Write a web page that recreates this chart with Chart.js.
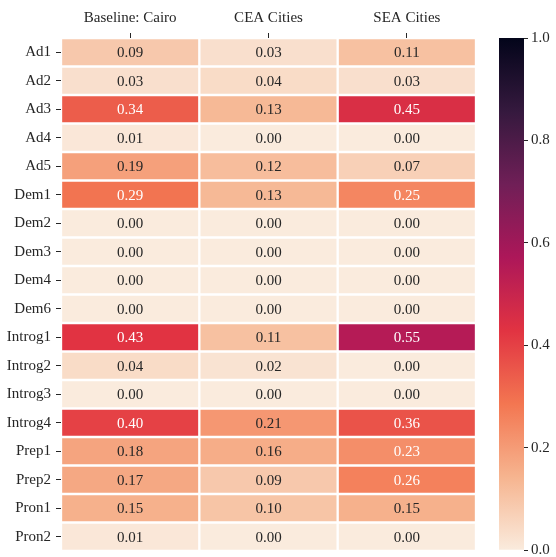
<!DOCTYPE html>
<html>
<head>
<meta charset="utf-8">
<script src="https://cdn.jsdelivr.net/npm/chart.js@4/dist/chart.umd.min.js"></script>
<style>
  body { margin: 0; background: #fff; }
  #wrap { position: relative; width: 556px; height: 557px; }
  #heat { position: absolute; left: 0; top: 0; }
  #bar { position: absolute; left: 480px; top: 0; }
</style>
</head>
<body>
<div id="wrap">
  <canvas id="heat" width="480" height="557"></canvas>
  <canvas id="bar" width="76" height="557"></canvas>
</div>
<script>
// filas y columnas del mapa de calor
const filas = ['Ad1', 'Ad2', 'Ad3', 'Ad4', 'Ad5', 'Dem1', 'Dem2', 'Dem3', 'Dem4', 'Dem6',
  'Introg1', 'Introg2', 'Introg3', 'Introg4', 'Prep1', 'Prep2', 'Pron1', 'Pron2'];
const columnas = ['Baseline: Cairo', 'CEA Cities', 'SEA Cities'];

const baselineCairo = [0.09, 0.03, 0.34, 0.01, 0.19, 0.29, 0.00, 0.00, 0.00, 0.00,
  0.43, 0.04, 0.00, 0.40, 0.18, 0.17, 0.15, 0.01];
const ceaCities = [0.03, 0.04, 0.13, 0.00, 0.12, 0.13, 0.00, 0.00, 0.00, 0.00,
  0.11, 0.02, 0.00, 0.21, 0.16, 0.09, 0.10, 0.00];
const seaCities = [0.11, 0.03, 0.45, 0.00, 0.07, 0.25, 0.00, 0.00, 0.00, 0.00,
  0.55, 0.00, 0.00, 0.36, 0.23, 0.26, 0.15, 0.00];

const valores = [baselineCairo, ceaCities, seaCities];
const escalaTicks = [0, 0.2, 0.4, 0.6, 0.8, 1.0];

// paleta rocket invertida (0 claro -> 1 oscuro)
const paleta = [
  [0.000, [250, 235, 221]],
  [0.143, [246, 180, 143]],
  [0.286, [243, 118, 81]],
  [0.429, [225, 51, 66]],
  [0.571, [173, 23, 89]],
  [0.714, [112, 31, 87]],
  [0.857, [53, 25, 62]],
  [1.000, [3, 5, 26]]
];

function rgbDe(v) {
  for (let k = 1; k < paleta.length; k++) {
    const [p0, c0] = paleta[k - 1];
    const [p1, c1] = paleta[k];
    if (v <= p1) {
      const t = (v - p0) / (p1 - p0);
      return c0.map((c, i) => Math.round(c + (c1[i] - c) * t));
    }
  }
  return paleta[paleta.length - 1][1];
}

const colorDe = v => {
  const [r, g, b] = rgbDe(v);
  return `rgb(${r}, ${g}, ${b})`;
}

// texto oscuro sobre celdas claras, blanco sobre oscuras
function colorTexto(v) {
  const lin = rgbDe(v).map(c => {
    c = c / 255;
    return c <= 0.03928 ? c / 12.92 : Math.pow((c + 0.055) / 1.055, 2.4);
  });
  const lum = 0.2126 * lin[0] + 0.7152 * lin[1] + 0.0722 * lin[2];
  return lum > 0.408 ? '#262626' : '#ffffff';
}

const fuente = { family: "'Liberation Serif', 'DejaVu Serif', serif", size: 15 };

// sin relleno extra por las etiquetas de los extremos
const sinRelleno = axis => {
  axis.paddingTop = 0;
  axis.paddingBottom = 0;
}

// cada fila es un dataset de barras flotantes [i, i+1]
const datasets = filas.map((fila, i) => ({
  label: fila,
  data: columnas.map(() => [i, i + 1]),
  backgroundColor: columnas.map((c, j) => colorDe(valores[j][i])),
  borderColor: '#ffffff',
  borderWidth: 1.5,
  borderSkipped: false,
  barPercentage: 1,
  categoryPercentage: 1
}));

const etiquetasCeldas = {
  id: 'etiquetasCeldas',
  afterDatasetsDraw(chart) {
    const ctx = chart.ctx;
    ctx.save();
    ctx.font = `15px ${fuente.family}`;
    ctx.textAlign = 'center';
    ctx.textBaseline = 'middle';
    chart.data.datasets.forEach((ds, i) => {
      chart.getDatasetMeta(i).data.forEach((el, j) => {
        const v = valores[j][i];
        ctx.fillStyle = colorTexto(v);
        ctx.fillText(v.toFixed(2), el.x, (el.y + el.base) / 2 + 1);
      });
    });
    ctx.restore();
  }
};

new Chart(document.getElementById('heat'), {
  type: 'bar',
  data: { labels: columnas, datasets },
  plugins: [etiquetasCeldas],
  options: {
    responsive: false,
    animation: false,
    events: [],
    layout: { padding: { top: 0, right: 4, bottom: 6, left: 0 } },
    plugins: { legend: { display: false }, tooltip: { enabled: false } },
    scales: {
      x: {
        position: 'top',
        stacked: true,
        afterFit: axis => { axis.height = 38; },
        grid: { offset: false, drawOnChartArea: false, drawTicks: true, tickLength: 5, color: '#262626' },
        border: { display: false },
        ticks: { color: '#262626', font: fuente, padding: 6, maxRotation: 0 }
      },
      y: {
        type: 'linear',
        reverse: true,
        min: 0,
        max: filas.length,
        afterFit: axis => { axis.width = 61; sinRelleno(axis); },
        afterBuildTicks: axis => { axis.ticks = filas.map((f, i) => ({ value: i + 0.5 })); },
        grid: { drawOnChartArea: false, drawTicks: true, tickLength: 5, color: '#262626' },
        border: { display: false },
        ticks: {
          color: '#262626',
          font: fuente,
          padding: 5,
          callback: v => filas[Math.floor(v)]
        }
      }
    }
  }
});

// barra de color
new Chart(document.getElementById('bar'), {
  type: 'bar',
  data: {
    labels: [''],
    datasets: [{
      data: [[0, 1]],
      backgroundColor: ctx => {
        const area = ctx.chart.chartArea;
        if (!area) return colorDe(0);
        const g = ctx.chart.ctx.createLinearGradient(0, area.bottom, 0, area.top);
        paleta.forEach(([p]) => g.addColorStop(p, colorDe(p)));
        return g;
      },
      borderWidth: 0,
      barPercentage: 1,
      categoryPercentage: 1
    }]
  },
  options: {
    responsive: false,
    animation: false,
    events: [],
    layout: { padding: { top: 38, right: 0, bottom: 7, left: 19 } },
    plugins: { legend: { display: false }, tooltip: { enabled: false } },
    scales: {
      x: { display: false },
      y: {
        position: 'right',
        min: 0,
        max: 1,
        afterFit: axis => { axis.width = 32; sinRelleno(axis); },
        afterBuildTicks: axis => { axis.ticks = escalaTicks.map(v => ({ value: v })); },
        grid: { drawOnChartArea: false, drawTicks: true, tickLength: 4, color: '#262626' },
        border: { display: false },
        ticks: { color: '#262626', font: fuente, padding: 3, callback: v => v.toFixed(1) }
      }
    }
  }
});
</script>
</body>
</html>
